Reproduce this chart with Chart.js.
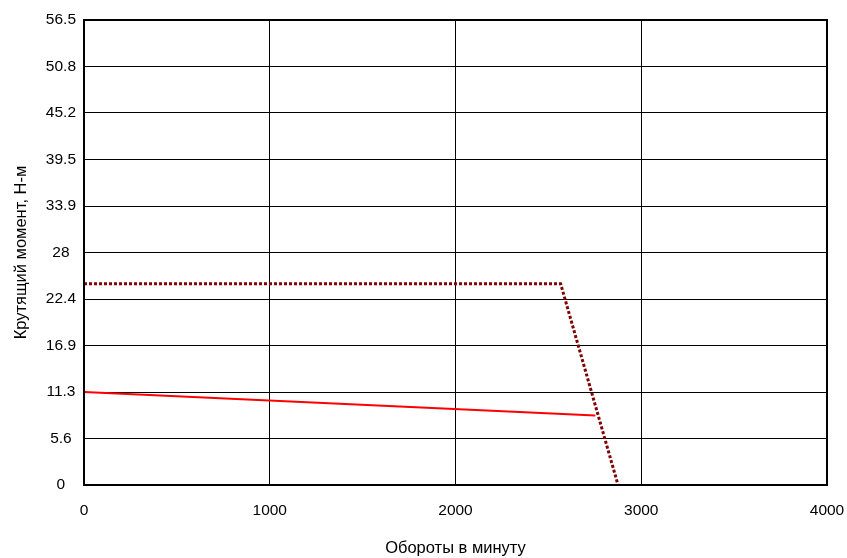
<!DOCTYPE html>
<html>
<head>
<meta charset="utf-8">
<script src="https://cdn.jsdelivr.net/npm/chart.js@4/dist/chart.umd.min.js"></script>
<style>
  html, body { margin: 0; padding: 0; background: #fff; }
  #wrap { width: 847px; height: 558px; }
</style>
</head>
<body>
<div id="wrap"><canvas id="c" width="847" height="558"></canvas></div>
<script>
// Torque curves: peak (intermittent) and continuous, vs. shaft speed
const peakRpm = [0, 2566, 2875];
const peakTorque = [24.45, 24.45, 0];
const contRpm = [0, 2753];
const contTorque = [11.3, 8.45];

// Axis tick labels
const xTicks = [0, 1000, 2000, 3000, 4000];
const yTickLabels = ['0', '5.6', '11.3', '16.9', '22.4', '28', '33.9', '39.5', '45.2', '50.8', '56.5'];
const yMax = 56.5;

const xTitle = 'Обороты в минуту';
const yTitle = 'Крутящий момент, Н-м';

const toPoints = (xs, ys) => xs.map((x, i) => ({ x: x, y: ys[i] }));

const FAMILY = "'Liberation Sans', Arial, sans-serif";
const TICK_FONT = { family: FAMILY, size: 15.5 };
const TITLE_FONT = { family: FAMILY, size: 16.5 };

// Frame around the plot area
const frame = {
  id: 'frame',
  afterDraw(chart) {
    const { ctx, chartArea: a } = chart;
    ctx.save();
    ctx.strokeStyle = '#000';
    ctx.lineWidth = 2;
    ctx.strokeRect(a.left, a.top, a.right - a.left, a.bottom - a.top);
    ctx.restore();
  }
};

new Chart(document.getElementById('c'), {
  type: 'scatter',
  data: {
    datasets: [
      {
        label: 'peak',
        data: toPoints(peakRpm, peakTorque),
        showLine: true,
        borderColor: '#800000',
        borderWidth: 3,
        borderDash: [3, 2],
        pointRadius: 0,
        tension: 0,
        fill: false
      },
      {
        label: 'continuous',
        data: toPoints(contRpm, contTorque),
        showLine: true,
        borderColor: '#ff0000',
        borderWidth: 2,
        pointRadius: 0,
        tension: 0,
        fill: false
      }
    ]
  },
  options: {
    responsive: false,
    animation: false,
    layout: { padding: { top: 20, right: 20, left: 0, bottom: 0 } },
    plugins: { legend: { display: false }, tooltip: { enabled: false } },
    scales: {
      x: {
        type: 'linear',
        min: xTicks[0],
        max: xTicks[xTicks.length - 1],
        afterBuildTicks: s => { s.ticks = xTicks.map(v => ({ value: v })); },
        afterFit: s => { s.height = 73; s.paddingLeft = 0; s.paddingRight = 0; },
        grid: { color: '#000', lineWidth: 1, drawTicks: false },
        border: { color: '#000', width: 2 },
        ticks: {
          color: '#000', font: TICK_FONT, padding: 16, maxRotation: 0,
          callback: v => String(v)
        },
        title: { display: true, text: xTitle, color: '#000', font: TITLE_FONT, padding: { top: 0, bottom: 0 } }
      },
      y: {
        type: 'linear',
        min: 0,
        max: yMax,
        afterBuildTicks: s => {
          s.ticks = yTickLabels.map((l, i) => ({ value: i * yMax / (yTickLabels.length - 1) }));
        },
        afterFit: s => { s.width = 84; s.paddingTop = 0; s.paddingBottom = 0; },
        grid: { color: '#000', lineWidth: 1, drawTicks: false },
        border: { color: '#000', width: 2 },
        ticks: {
          color: '#000', font: TICK_FONT, padding: 8, crossAlign: 'center',
          callback: (v, i) => yTickLabels[i]
        },
        title: { display: true, text: yTitle, color: '#000', font: TITLE_FONT, padding: { top: 12, bottom: 12 } }
      }
    }
  },
  plugins: [frame]
});
</script>
</body>
</html>
